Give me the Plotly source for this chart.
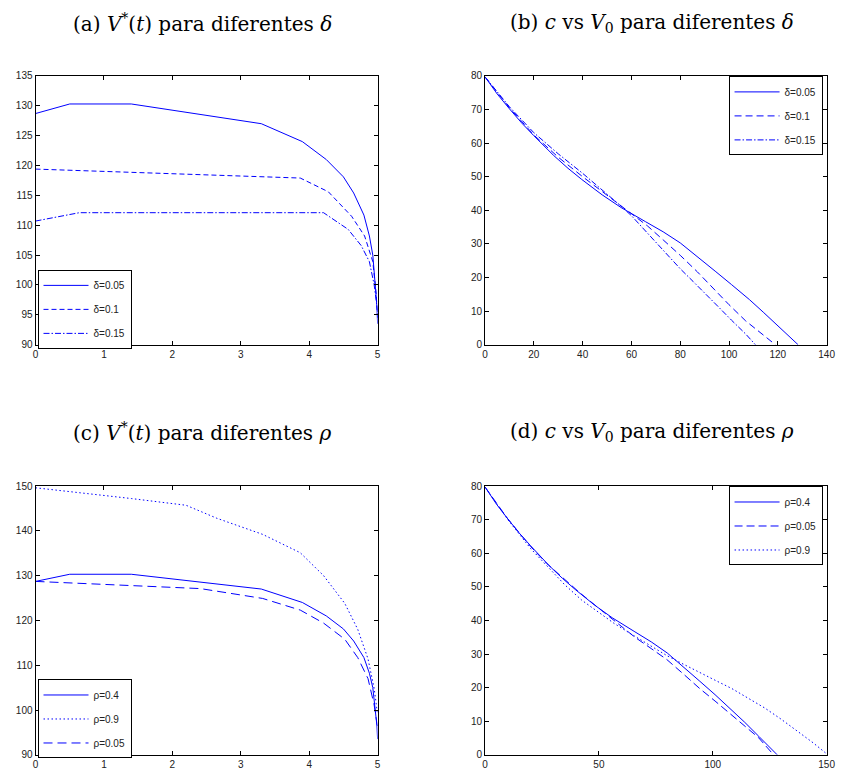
import plotly.graph_objects as go

# ---------------- data ----------------
# (a)/(c): V*(t)
t_base = [0, 0.5, 1.4, 3.3, 3.9, 4.25, 4.5, 4.65, 4.8, 4.88, 4.93, 4.97, 4.99, 5.0]
v_base = [128.7, 130.3, 130.3, 127.0, 124.0, 121.0, 118.1, 115.4, 111.7, 108.2, 105.0, 100.0, 96.5, 93.5]

t_d010 = [0, 3.87, 4.28, 4.62, 4.81, 4.93, 4.98, 5.0]
v_d010 = [119.4, 117.9, 115.6, 111.5, 108.2, 103.9, 98.4, 94.5]

t_d015 = [0, 0.64, 4.21, 4.57, 4.76, 4.88, 4.95, 5.0]
v_d015 = [110.7, 112.1, 112.1, 109.3, 106.6, 103.9, 100.0, 95.5]

t_r09 = [0, 0.49, 1.4, 2.2, 2.65, 3.32, 3.87, 4.21, 4.52, 4.71, 4.86, 4.95, 5.0]
v_r09 = [149.6, 148.8, 147.2, 145.7, 142.8, 139.2, 135.1, 130.0, 123.8, 118.0, 111.4, 104.8, 99.0]

t_r005 = [0, 1.45, 2.41, 3.32, 3.87, 4.21, 4.52, 4.71, 4.86, 4.95, 5.0]
v_r005 = [128.7, 127.8, 127.1, 124.9, 122.3, 119.4, 115.8, 111.7, 107.0, 101.1, 96.0]

# (b)/(d): c vs V0
V_base = [0, 5, 10, 15, 20, 28, 34, 39.6, 48, 55.8, 65.8, 73, 80, 87, 94.3, 101, 108.4, 114, 120.2, 128.3]
c_base = [79.7, 74.6, 70.2, 66.0, 62.2, 56.4, 52.5, 49.2, 44.6, 40.8, 36.6, 33.6, 30.3, 26.3, 21.9, 17.9, 13.4, 9.7, 5.5, 0]

V_d010 = [0, 10, 20, 30, 40, 48, 55, 60, 66.5, 73, 80, 87, 93.4, 100, 106.8, 113, 119]
c_d010 = [79.7, 70.5, 62.4, 55.8, 50.0, 45.6, 41.7, 39.0, 35.4, 31.2, 26.6, 21.7, 16.8, 11.9, 7.1, 3.5, 0]

V_d015 = [0, 10, 20, 30, 40, 48, 55, 60, 65, 70, 74.6, 80, 85.3, 90, 96, 101, 106.8, 110.8]
c_d015 = [79.7, 70.8, 63.1, 56.8, 51.0, 46.1, 41.7, 38.4, 34.4, 30.5, 26.6, 22.6, 18.8, 15.5, 11.0, 7.3, 3.2, 0]

V_r005 = [0, 10, 20, 27, 33.8, 42, 51.1, 58, 65.8, 73, 79.9, 87, 94.3, 101, 107.1, 114, 120.1, 126.7]
c_r005 = [79.7, 70.2, 62.0, 57.0, 52.9, 48.0, 43.0, 39.2, 35.0, 31.6, 28.3, 24.1, 19.7, 16.0, 12.5, 8.7, 5.1, 0]

V_r09 = [0, 10, 20, 28.1, 35, 42.5, 50, 56.9, 65, 74.1, 79.9, 87, 94.3, 101, 108.4, 115, 122.9, 130, 137.4, 144, 150]
c_r09 = [79.7, 70.0, 61.4, 55.5, 50.6, 46.0, 42.3, 39.0, 35.6, 32.0, 29.5, 27.0, 24.6, 22.2, 19.7, 17.1, 13.9, 10.6, 7.0, 3.6, 0.3]

names_delta = ["δ=0.05", "δ=0.1", "δ=0.15"]
names_rho_c = ["ρ=0.4", "ρ=0.9", "ρ=0.05"]
names_rho_d = ["ρ=0.4", "ρ=0.05", "ρ=0.9"]

STAR = "<sup><span style='font-size:14px'>*</span></sup>"
titles = [
    "(a) <i>V</i>" + STAR + "(<i>t</i>) para diferentes <i>δ</i>",
    "(b) <i>c</i> vs <i>V</i><sub>0</sub> para diferentes <i>δ</i>",
    "(c) <i>V</i>" + STAR + "(<i>t</i>) para diferentes <i>ρ</i>",
    "(d) <i>c</i> vs <i>V</i><sub>0</sub> para diferentes <i>ρ</i>",
]

# ---------------- figure ----------------
W, H = 845, 780
BLUE = "#0000ff"

def px_x(p):
    return p / W

def px_y(p):
    return 1 - p / H

fig = go.Figure()

def add(x, y, name, dash, xa, ya, leg):
    fig.add_trace(go.Scatter(
        x=x, y=y, name=name, mode="lines",
        line=dict(color=BLUE, width=1, dash=dash),
        xaxis=xa, yaxis=ya, legend=leg, legendgroup=leg + name,
    ))

# (a)
add(t_base, v_base, names_delta[0], "solid", "x", "y", "legend")
add(t_d010, v_d010, names_delta[1], "5px,3px", "x", "y", "legend")
add(t_d015, v_d015, names_delta[2], "6px,2px,1.5px,2px", "x", "y", "legend")
# (b)
add(V_base, c_base, names_delta[0], "solid", "x2", "y2", "legend2")
add(V_d010, c_d010, names_delta[1], "7px,4px", "x2", "y2", "legend2")
add(V_d015, c_d015, names_delta[2], "6px,2px,1.5px,2px", "x2", "y2", "legend2")
# (c)
add(t_base, v_base, names_rho_c[0], "solid", "x3", "y3", "legend3")
add(t_r09, v_r09, names_rho_c[1], "1.5px,2.5px", "x3", "y3", "legend3")
add(t_r005, v_r005, names_rho_c[2], "9px,5px", "x3", "y3", "legend3")
# (d)
add(V_base, c_base, names_rho_d[0], "solid", "x4", "y4", "legend4")
add(V_r005, c_r005, names_rho_d[1], "8px,4px", "x4", "y4", "legend4")
add(V_r09, c_r09, names_rho_d[2], "1.5px,2.5px", "x4", "y4", "legend4")

left_dom = [px_x(33), px_x(380)]
right_dom = [px_x(489), px_x(835.5)]
top_dom = [px_y(344), px_y(71)]
bot_dom = [px_y(760.5), px_y(487.5)]

def axis(domain, anchor, rng, dtick):
    return dict(
        domain=domain, anchor=anchor, range=rng, dtick=dtick, tick0=0,
        showline=True, linecolor="black", linewidth=1, mirror="ticks",
        ticks="inside", ticklen=4, tickcolor="black", tickwidth=1,
        showgrid=False, zeroline=False, ticklabeloverflow="allow",
        tickfont=dict(family="Liberation Sans, Arial", size=10, color="#222"),
    )

fig.update_layout(
    xaxis=axis(left_dom, "y", [0, 5], 1),
    yaxis=axis(top_dom, "x", [90, 135], 5),
    xaxis2=axis(right_dom, "y2", [0, 140], 20),
    yaxis2=axis(top_dom, "x2", [0, 80], 10),
    xaxis3=axis(left_dom, "y3", [0, 5], 1),
    yaxis3=axis(bot_dom, "x3", [90, 150], 10),
    xaxis4=axis(right_dom, "y4", [0, 150], 50),
    yaxis4=axis(bot_dom, "x4", [0, 80], 10),
)

def legend(x, y):
    return dict(
        x=x, y=y, xanchor="left", yanchor="top",
        bgcolor="white", bordercolor="black", borderwidth=1,
        font=dict(family="Liberation Sans, Arial", size=10, color="#222"),
        tracegroupgap=5, itemwidth=45,
    )

fig.update_layout(
    legend=legend(px_x(35), px_y(268)),
    legend2=legend(px_x(736), px_y(71.5)),
    legend3=legend(px_x(35), px_y(684)),
    legend4=legend(px_x(736), px_y(488)),
)

title_pos = [(202, 17), (658, 17), (202, 433), (658, 433)]
for txt, (cx, cy) in zip(titles, title_pos):
    fig.add_annotation(
        text=txt, x=px_x(cx), y=px_y(cy), xref="paper", yref="paper",
        xanchor="center", yanchor="middle", showarrow=False,
        font=dict(family="DejaVu Serif, serif", size=20, color="black"),
    )

fig.update_layout(
    width=W, height=H, margin=dict(l=0, r=0, t=0, b=0),
    paper_bgcolor="white", plot_bgcolor="white", showlegend=True,
    hovermode=False,
)

fig.write_html(
    "out.html",
    config={"displayModeBar": False, "staticPlot": True},
    post_script="document.body.style.margin='0px';document.body.style.overflow='hidden';",
)
